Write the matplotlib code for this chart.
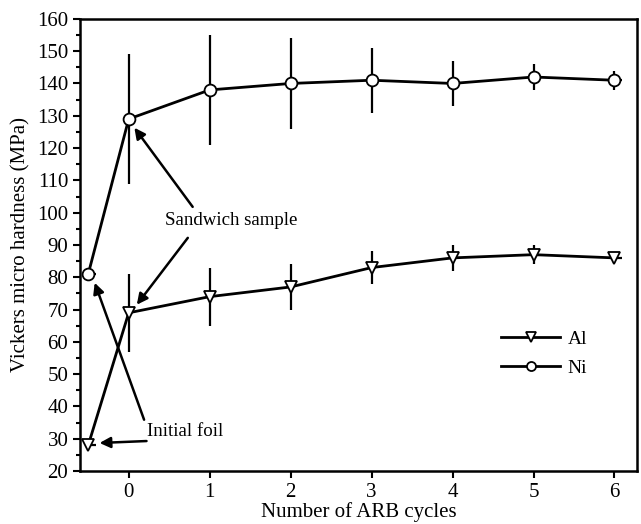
import matplotlib
matplotlib.use("Agg")
import matplotlib.pyplot as plt
from matplotlib.lines import Line2D
import numpy as np

plt.rcParams['font.family'] = ['Liberation Serif', 'DejaVu Serif']

# data (x = -0.5 is the initial foil)
cycles = [-0.5, 0, 1, 2, 3, 4, 5, 6]
al_hv = [28, 69, 74, 77, 83, 86, 87, 86]
al_err = [0, 12, 9, 7, 5, 4, 3, 1.5]
ni_hv = [81, 129, 138, 140, 141, 140, 142, 141]
ni_err = [0, 20, 17, 14, 10, 7, 4, 3]
xticks = [0, 1, 2, 3, 4, 5, 6]

fig = plt.figure(figsize=(6.41, 5.24), dpi=100)
ax = fig.add_axes([0.125, 0.101, 0.869, 0.863])

# short horizontal dash drawn next to the first and last markers
dash = [[0, 0, 0, 0, 0, 0, 0, 0], [0.09, 0, 0, 0, 0, 0, 0, 0.09]]

ax.errorbar(cycles, al_hv, yerr=al_err, xerr=dash, color='k', lw=2, elinewidth=1.6,
            capsize=0, marker='v', ms=9, mfc='white', mec='k', mew=1.3, zorder=3)
ax.errorbar(cycles, ni_hv, yerr=ni_err, xerr=dash, color='k', lw=2, elinewidth=1.6,
            capsize=0, marker='o', ms=8.5, mfc='white', mec='k', mew=1.3, zorder=3)

h_al = Line2D([], [], color='k', lw=2, marker='v', ms=7, mfc='white', mec='k', mew=1.3)
h_ni = Line2D([], [], color='k', lw=2, marker='o', ms=6.5, mfc='white', mec='k', mew=1.3)
ax.legend([h_al, h_ni], ['Al', 'Ni'], loc='center left', bbox_to_anchor=(0.725, 0.26),
          frameon=False, fontsize=14, handlelength=3.0, handletextpad=0.4, labelspacing=0.6)

arrow = dict(arrowstyle='-|>', color='k', lw=1.8, mutation_scale=16, shrinkA=0, shrinkB=0)
ax.text(1.27, 97.5, 'Sandwich sample', ha='center', va='center', fontsize=13.6)
ax.annotate('', xy=(0.07, 126.3), xytext=(0.79, 101.8), arrowprops=arrow)
ax.annotate('', xy=(0.1, 71.5), xytext=(0.73, 92.2), arrowprops=arrow)
ax.text(0.23, 32.1, 'Initial foil', ha='left', va='center', fontsize=13.6)
ax.annotate('', xy=(-0.42, 78.3), xytext=(0.19, 35.9), arrowprops=arrow)
ax.annotate('', xy=(-0.36, 28.7), xytext=(0.22, 29.3), arrowprops=arrow)

ax.set_xlim(-0.6, 6.28)
ax.set_ylim(20, 160)
ax.set_xticks(xticks)
ax.set_yticks(np.arange(20, 161, 10))
ax.set_yticks(np.arange(25, 160, 10), minor=True)
ax.tick_params(axis='both', which='major', direction='out', length=5, width=1.5, labelsize=15)
ax.tick_params(axis='y', which='minor', direction='out', length=3, width=1.5)
for s in ax.spines.values():
    s.set_linewidth(1.8)

ax.set_xlabel('Number of ARB cycles', fontsize=15, labelpad=0)
ax.set_ylabel('Vickers micro hardness (MPa)', fontsize=15, labelpad=5)

fig.savefig('out.png', dpi=100)
